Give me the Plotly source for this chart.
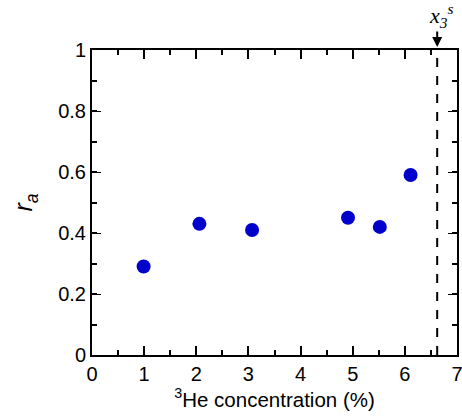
import plotly.graph_objects as go

# Data
he3_conc = [0.99, 2.06, 3.07, 4.91, 5.52, 6.11]
r_a = [0.29, 0.43, 0.41, 0.45, 0.42, 0.59]
x3s = 6.62  # saturation concentration marker

x_ticks = [0, 1, 2, 3, 4, 5, 6, 7]
y_ticks = [0, 0.2, 0.4, 0.6, 0.8, 1]

FONT = "Liberation Sans, Arial, Helvetica, sans-serif"

fig = go.Figure()
fig.add_trace(go.Scatter(
    x=he3_conc, y=r_a, mode="markers",
    marker=dict(size=14, color="#0000CC", line=dict(width=0)),
    showlegend=False,
))

fig.add_shape(type="line", xref="x", yref="y", x0=x3s, x1=x3s, y0=0, y1=1,
              line=dict(color="black", width=2, dash="dash"))

# arrow
fig.add_annotation(
    x=x3s, y=1, xref="x", yref="y", text="",
    showarrow=True, arrowhead=2, arrowsize=1, arrowwidth=2, arrowcolor="black",
    ax=0, ay=-20, standoff=3,
)
# label
fig.add_annotation(
    x=x3s, y=1, xref="x", yref="paper",
    text="<i>x<sub>3</sub><sup>s</sup></i>",
    showarrow=False, xanchor="center", yanchor="middle", yshift=35, xshift=4,
    font=dict(family="Liberation Serif, Times New Roman, serif", size=22, color="black"),
)

axis_common = dict(
    showline=True, linecolor="black", linewidth=2, mirror="allticks",
    ticks="inside", ticklen=9, tickcolor="black",
    showgrid=False, zeroline=False, automargin=False,
    ticklabeloverflow="allow",
    tickfont=dict(family=FONT, size=20, color="black"),
)

fig.update_xaxes(
    range=[0, 7], tickvals=x_ticks, ticktext=[str(v) for v in x_ticks],
    tickwidth=2,
    minor=dict(ticks="inside", ticklen=5, dtick=0.5, tickwidth=1.5, tickcolor="black"),
    title=dict(text="<sup>3</sup>He concentration (%)",
               font=dict(family=FONT, size=20.5, color="black"), standoff=4),
    **axis_common,
)
fig.update_yaxes(
    range=[0, 1], tickvals=y_ticks, ticktext=["0", "0.2", "0.4", "0.6", "0.8", "1"],
    tickwidth=1,
    minor=dict(ticks="inside", ticklen=5, dtick=0.1, tickwidth=2, tickcolor="black"),
    title=dict(text="<i>r<sub>a</sub></i>",
               font=dict(family=FONT, size=25, color="black"), standoff=18),
    **axis_common,
)

fig.update_layout(
    width=462, height=419,
    margin=dict(l=92, r=5, t=50, b=64),
    plot_bgcolor="white", paper_bgcolor="white",
)

fig.write_html("out.html")
